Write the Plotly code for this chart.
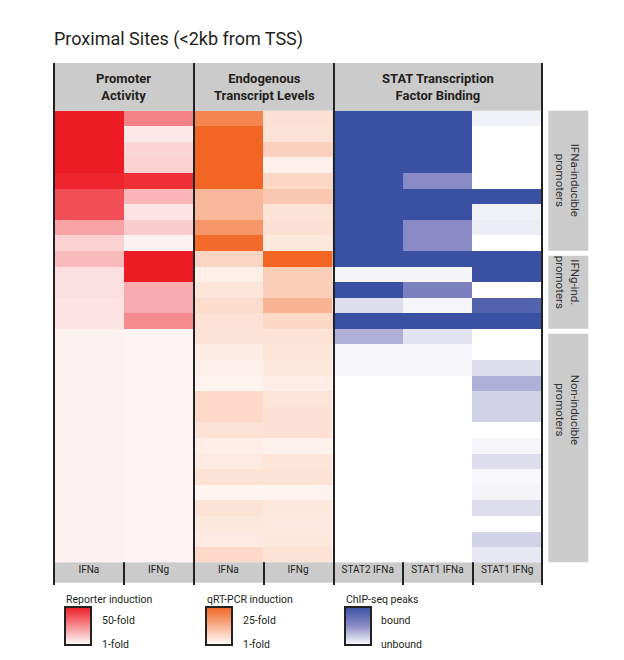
import plotly.graph_objects as go
import numpy as np

W, H = 624, 660

# ---------------- data ----------------
row_ids = [f"promoter {i+1}" for i in range(29)]
col_labels = ["IFNa", "IFNg", "IFNa", "IFNg", "STAT2 IFNa", "STAT1 IFNa", "STAT1 IFNg"]
panel_titles = ["Promoter<br>Activity", "Endogenous<br>Transcript Levels", "STAT Transcription<br>Factor Binding"]
group_labels = ["IFNa-inducible<br>promoters", "IFNg-ind.<br>promoters", "Non-inducible<br>promoters"]
group_sizes = [9, 5, 15]

# reporter induction (fold, 1-50)
promoter_ifna = [50, 50, 50, 50, 48, 39, 39, 21, 11, 16, 8, 8, 7, 7,
                 4, 4, 4, 4, 4, 4, 4, 4, 4, 4, 4, 4, 4, 4, 4]
promoter_ifng = [28, 6, 10, 11, 46, 17, 7, 12, 4, 50, 50, 19, 19, 26,
                 3.5, 3.5, 3.5, 3.5, 3.5, 3.5, 3.5, 3.5, 3.5, 3.5, 3.5, 3.5, 3.5, 3.5, 3.5]
# qRT-PCR induction (fold, 1-25)
transcript_ifna = [20, 25, 25, 25, 25, 12, 12, 17.5, 24, 7.5, 3.4, 5, 6.5, 5.7, 5.4,
                   4, 3.3, 2.8, 7, 7, 5.4, 3.6, 4.3, 5.4, 2.6, 5.4, 4.6, 4.2, 7]
transcript_ifng = [5.8, 5.4, 8.3, 3.3, 7.1, 9.6, 5.4, 5.8, 4.6, 25, 8.5, 8.5, 12.7, 7.1, 5.4,
                   5, 4.6, 3.6, 5.2, 5.8, 5.8, 3.0, 5, 5.4, 2.8, 4.6, 4.4, 4.6, 5.4]
# ChIP-seq peaks (0 unbound - 1 bound)
stat2_ifna = [1, 1, 1, 1, 1, 1, 1, 1, 1, 1, 0.05, 1, 0.15, 1, 0.35, 0.04, 0.04,
              0, 0, 0, 0, 0, 0, 0, 0, 0, 0, 0, 0]
stat1_ifna = [1, 1, 1, 1, 0.52, 1, 1, 0.52, 0.52, 1, 0.05, 0.6, 0.04, 1, 0.12, 0.04, 0.04,
              0, 0, 0, 0, 0, 0, 0, 0, 0, 0, 0, 0]
stat1_ifng = [0.06, 0, 0, 0, 0, 1, 0.06, 0.08, 0, 1, 1, 0, 0.85, 1, 0, 0, 0.15,
              0.35, 0.2, 0.2, 0, 0.04, 0.15, 0.03, 0.05, 0.15, 0, 0.2, 0.1]

legend_titles = ["Reporter induction", "qRT-PCR induction", "ChIP-seq peaks"]
legend_top = ["50-fold", "25-fold", "bound"]
legend_bottom = ["1-fold", "1-fold", "unbound"]

# ---------------- styling ----------------
FONT = "Roboto, Lato, sans-serif"
TXT = "#231f20"
GRAY = "#cbcbcb"
red_cs = [[0, "#ffffff"], [1, "#ed1c24"]]
orange_cs = [[0, "#ffffff"], [1, "#f26522"]]
blue_cs = [[0, "#ffffff"], [0.5, "#8c8cc6"], [1, "#3a50a2"]]


def px(x):
    return x / W


def py(y):
    return 1 - y / H


X0, X1 = 54, 542
Y0, Y1 = 110.7, 562.3
rows = list(range(len(row_ids)))

leg_x = [64.5, 206, 344.5]
leg_box_top, leg_box_bot = 607, 645


def cbar(i):
    return dict(x=px(leg_x[i]), xanchor="left", y=py(leg_box_top), yanchor="top",
                lenmode="pixels", len=leg_box_bot - leg_box_top, thickness=26,
                outlinewidth=2, outlinecolor="#222222", showticklabels=False, ticks="",
                xpad=0, ypad=0)


fig = go.Figure()
fig.add_trace(go.Heatmap(x=[0, 1], y=rows, z=np.column_stack([promoter_ifna, promoter_ifng]),
                         zmin=1, zmax=50, colorscale=red_cs, colorbar=cbar(0),
                         hovertemplate="%{z}-fold<extra></extra>"))
fig.add_trace(go.Heatmap(x=[2, 3], y=rows, z=np.column_stack([transcript_ifna, transcript_ifng]),
                         zmin=1, zmax=25, colorscale=orange_cs, colorbar=cbar(1),
                         hovertemplate="%{z}-fold<extra></extra>"))
fig.add_trace(go.Heatmap(x=[4, 5, 6], y=rows, z=np.column_stack([stat2_ifna, stat1_ifna, stat1_ifng]),
                         zmin=0, zmax=1, colorscale=blue_cs, colorbar=cbar(2),
                         hovertemplate="%{z}<extra></extra>"))

shapes = []
# header band and bottom label band
shapes.append(dict(type="rect", xref="paper", yref="paper", x0=px(X0), x1=px(X1), y0=py(63), y1=py(Y0),
                   fillcolor=GRAY, line_width=0, layer="below"))
shapes.append(dict(type="rect", xref="paper", yref="paper", x0=px(X0), x1=px(X1), y0=py(Y1), y1=py(582.7),
                   fillcolor=GRAY, line_width=0, layer="below"))
# panel borders
for xv in [54, 194, 334, 542]:
    shapes.append(dict(type="line", xref="paper", yref="paper", x0=px(xv), x1=px(xv), y0=py(63), y1=py(585),
                       line=dict(color="#222222", width=2)))
# column dividers in bottom band
for xv in [124, 264, 403, 473]:
    shapes.append(dict(type="line", xref="paper", yref="paper", x0=px(xv), x1=px(xv), y0=py(Y1), y1=py(585),
                       line=dict(color="#222222", width=2)))

annotations = []
annotations.append(dict(text="Proximal Sites (&lt;2kb from TSS)", x=px(52), y=py(39), xref="paper", yref="paper",
                        xanchor="left", yanchor="middle", showarrow=False,
                        font=dict(family=FONT, size=18, color=TXT)))
for t, (a, b) in zip(panel_titles, [(54, 194), (194, 334), (334, 542)]):
    annotations.append(dict(text=f"<b>{t}</b>", x=px((a + b) / 2), y=py(86.5), xref="paper", yref="paper",
                            xanchor="center", yanchor="middle", showarrow=False,
                            font=dict(family=FONT, size=13, color=TXT)))
# group label boxes on the right
row_h = (Y1 - Y0) / len(row_ids)
start = 0
text_y = [180, 282, 410]
for g, n, ty in zip(group_labels, group_sizes, text_y):
    top = Y0 + start * row_h + (0 if start == 0 else 5)
    bot = Y0 + (start + n) * row_h
    shapes.append(dict(type="rect", xref="paper", yref="paper", x0=px(548.3), x1=px(588.3),
                       y0=py(bot), y1=py(top), fillcolor=GRAY, line_width=0, layer="below"))
    annotations.append(dict(text=g, x=px(568.3), y=py(ty), xref="paper", yref="paper",
                            xanchor="center", yanchor="middle", showarrow=False, textangle=90,
                            font=dict(family=FONT, size=11.5, color="#333333")))
    start += n
# legends
for i in range(3):
    annotations.append(dict(text=legend_titles[i], x=px(leg_x[i] - 1), y=py(599), xref="paper", yref="paper",
                            xanchor="left", yanchor="middle", showarrow=False,
                            font=dict(family=FONT, size=10.5, color=TXT)))
    annotations.append(dict(text=legend_top[i], x=px(leg_x[i] + 35), y=py(620), xref="paper", yref="paper",
                            xanchor="left", yanchor="middle", showarrow=False,
                            font=dict(family=FONT, size=10.5, color=TXT)))
    annotations.append(dict(text=legend_bottom[i], x=px(leg_x[i] + 35), y=py(644), xref="paper", yref="paper",
                            xanchor="left", yanchor="middle", showarrow=False,
                            font=dict(family=FONT, size=10.5, color=TXT)))

fig.update_layout(
    width=W, height=H, margin=dict(l=0, r=0, t=0, b=0),
    paper_bgcolor="white", plot_bgcolor="white",
    shapes=shapes, annotations=annotations,
    xaxis=dict(domain=[px(X0), px(X1)], range=[-0.5, 6.5], tickvals=list(range(7)), ticktext=col_labels,
               showgrid=False, zeroline=False, showline=False, ticks="", fixedrange=True,
               tickfont=dict(family=FONT, size=10, color=TXT)),
    yaxis=dict(domain=[py(Y1), py(Y0)], range=[len(rows) - 0.5, -0.5], visible=False,
               showgrid=False, zeroline=False, fixedrange=True),
    font=dict(family=FONT, color=TXT),
)

fig.write_html("out.html", config={"displayModeBar": False},
               post_script="document.body.style.margin='0px';")
